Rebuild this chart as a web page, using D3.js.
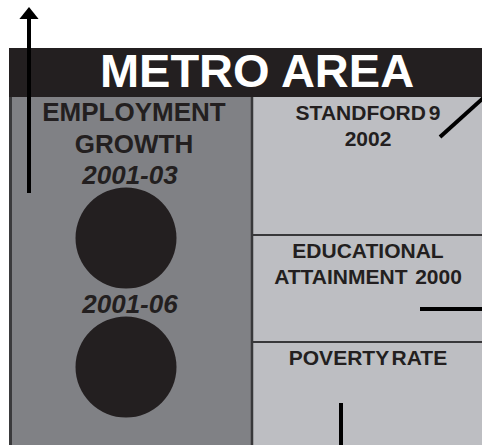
<!DOCTYPE html>
<html>
<head>
<meta charset="utf-8">
<script src="https://cdn.jsdelivr.net/npm/d3@7"></script>
<style>
  body { margin: 0; background: #fff; }
  svg text { font-family: "Liberation Sans", Arial, sans-serif; font-weight: bold; }
</style>
</head>
<body>
<div id="chart"></div>
<script>
  // indicator panels, needle direction in degrees clockwise from "up"
  const title = "METRO AREA";
  const leftLabel = ["EMPLOYMENT", "GROWTH"];
  const periods = ["2001-03", "2001-06"];
  const rightLabels = [["STANDFORD 9", "2002"], ["EDUCATIONAL", "ATTAINMENT  2000"], ["POVERTY RATE"]];
  const needleAngles = [0, 48, 90, 180];

  const W = 482, H = 445;
  const dark = "#231f20";

  const svg = d3.select("#chart").append("svg")
    .attr("width", W)
    .attr("height", H);

  const x = d3.scaleLinear().domain([0, 1]).range([9, W]);
  const splitX = 252;
  const headerTop = 48, headerBottom = 97;
  const rowEdges = [headerBottom, 235, 342, H];

  // left panel
  svg.append("rect")
    .attr("x", x(0)).attr("y", headerBottom)
    .attr("width", splitX - x(0)).attr("height", H - headerBottom)
    .attr("fill", "#808185");
  svg.append("line")
    .attr("x1", x(0) + 1.5).attr("x2", x(0) + 1.5)
    .attr("y1", headerBottom).attr("y2", H)
    .attr("stroke", "#3a3a3c").attr("stroke-width", 3);

  // right panel rows
  const rows = svg.selectAll("g.row")
    .data(rightLabels)
    .join("g")
    .attr("class", "row");

  rows.append("rect")
    .attr("x", splitX).attr("y", (d, i) => rowEdges[i])
    .attr("width", W - splitX).attr("height", (d, i) => rowEdges[i + 1] - rowEdges[i])
    .attr("fill", "#bdbec2");

  rows.filter((d, i) => i > 0).append("line")
    .attr("x1", splitX).attr("x2", W)
    .attr("y1", (d, i) => rowEdges[i + 1]).attr("y2", (d, i) => rowEdges[i + 1])
    .attr("stroke", "#38383a").attr("stroke-width", 2);

  rows.each(function (lines, i) {
    d3.select(this).selectAll("text")
      .data(lines)
      .join("text")
      .attr("x", 368)
      .attr("y", (d, j) => rowEdges[i] + 23 + j * 26)
      .attr("text-anchor", "middle")
      .attr("font-size", 21)
      .attr("fill", dark)
      .attr("word-spacing", d => d.indexOf("  ") >= 0 ? -2 : -3)
      .style("white-space", "pre")
      .text(d => d);
  });

  svg.append("line")
    .attr("x1", splitX).attr("x2", splitX)
    .attr("y1", headerBottom).attr("y2", H)
    .attr("stroke", "#38383a").attr("stroke-width", 2.5);

  // header
  svg.append("rect")
    .attr("x", x(0)).attr("y", headerTop)
    .attr("width", W - x(0)).attr("height", headerBottom - headerTop)
    .attr("fill", dark);
  svg.append("text")
    .attr("x", 257).attr("y", 87)
    .attr("text-anchor", "middle")
    .attr("font-size", 47)
    .attr("fill", "#fff")
    .text(title);

  // left labels
  svg.selectAll("text.emp")
    .data(leftLabel)
    .join("text")
    .attr("class", "emp")
    .attr("x", 134)
    .attr("y", (d, i) => 121 + i * 32)
    .attr("text-anchor", "middle")
    .attr("font-size", 26)
    .attr("fill", dark)
    .text(d => d);

  const periodY = d3.scalePoint().domain(periods).range([184, 313]);
  const dots = svg.selectAll("g.period")
    .data(periods)
    .join("g")
    .attr("class", "period");
  dots.append("text")
    .attr("x", 130)
    .attr("y", d => periodY(d))
    .attr("text-anchor", "middle")
    .attr("font-size", 26)
    .attr("font-style", "italic")
    .attr("fill", dark)
    .text(d => d);
  dots.append("circle")
    .attr("cx", 126)
    .attr("cy", d => periodY(d) + 54)
    .attr("r", 50.5)
    .attr("fill", dark);

  // needles
  const needleStarts = [[29, 193], [440, 137], [420, 309], [341, 403]];
  const needleLen = [174, 80, 80, 80];
  const defs = svg.append("defs");
  defs.append("marker")
    .attr("id", "head")
    .attr("viewBox", "0 0 10 10")
    .attr("preserveAspectRatio", "none")
    .attr("refX", 0).attr("refY", 5)
    .attr("markerWidth", 3).attr("markerHeight", 4.8)
    .attr("markerUnits", "strokeWidth")
    .attr("orient", "auto")
    .append("path")
    .attr("d", "M0,0L10,5L0,10Z")
    .attr("fill", "#000");

  svg.selectAll("line.needle")
    .data(needleAngles)
    .join("line")
    .attr("class", "needle")
    .attr("x1", (d, i) => needleStarts[i][0])
    .attr("y1", (d, i) => needleStarts[i][1])
    .attr("x2", (d, i) => needleStarts[i][0] + needleLen[i] * Math.sin(d * Math.PI / 180))
    .attr("y2", (d, i) => needleStarts[i][1] - needleLen[i] * Math.cos(d * Math.PI / 180))
    .attr("stroke", "#000")
    .attr("stroke-width", 4)
    .attr("marker-end", (d, i) => i === 0 ? "url(#head)" : null);
</script>
</body>
</html>
